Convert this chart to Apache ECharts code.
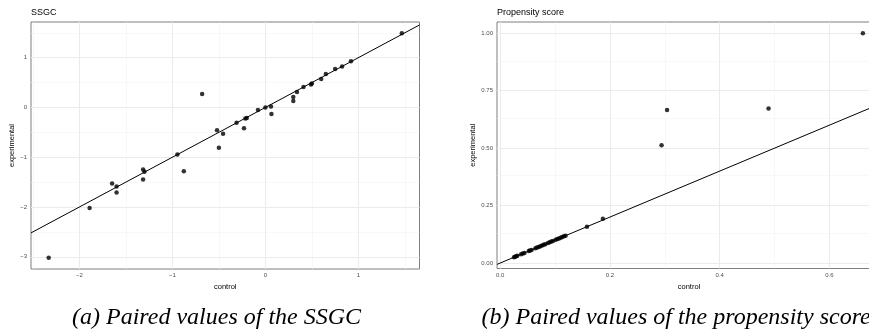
<!DOCTYPE html>
<html>
<head>
<meta charset="utf-8">
<script src="https://cdn.jsdelivr.net/npm/echarts@6/dist/echarts.min.js"></script>
<style>
html,body{margin:0;padding:0;overflow:hidden;background:#fff;}
#c{width:881px;height:330px;}
</style>
</head>
<body>
<div id="c"></div>
<script>
// ---- data ----
const ssgcControl = [1.467, 0.92, 0.825, 0.75, 0.65, 0.60, 0.50, 0.49, 0.41, 0.34, 0.30, 0.30, 0.06, 0.065, 0.0, -0.08, -0.20, -0.215, -0.23, -0.31, -0.52, -0.455, -0.68, -0.50, -0.946, -0.877, -1.315, -1.30, -1.315, -1.648, -1.60, -1.60, -1.89, -2.33];
const ssgcExperimental = [1.49, 0.93, 0.82, 0.77, 0.67, 0.57, 0.48, 0.46, 0.41, 0.31, 0.21, 0.13, 0.02, -0.13, 0.0, -0.05, -0.21, -0.22, -0.42, -0.31, -0.46, -0.53, 0.27, -0.81, -0.945, -1.28, -1.245, -1.29, -1.446, -1.53, -1.59, -1.71, -2.02, -3.02];
const propControl = [0.661, 0.489, 0.304, 0.294, 0.187, 0.158, 0.025, 0.027, 0.029, 0.031, 0.038, 0.041, 0.044, 0.052, 0.054, 0.057, 0.064, 0.067, 0.070, 0.073, 0.076, 0.079, 0.082, 0.087, 0.090, 0.093, 0.096, 0.101, 0.104, 0.107, 0.110, 0.113, 0.116, 0.119];
const propExperimental = [1.00, 0.673, 0.666, 0.512, 0.193, 0.158, 0.025, 0.027, 0.029, 0.031, 0.038, 0.041, 0.044, 0.052, 0.054, 0.057, 0.064, 0.067, 0.070, 0.073, 0.076, 0.079, 0.082, 0.087, 0.090, 0.093, 0.096, 0.101, 0.104, 0.107, 0.110, 0.113, 0.116, 0.119];

const ssgcXTicks = [-2, -1, 0, 1];
const ssgcYTicks = [-3, -2, -1, 0, 1];
const ssgcXMinor = [-2.5, -1.5, -0.5, 0.5, 1.5];
const ssgcYMinor = [-2.5, -1.5, -0.5, 0.5, 1.5];
const propXTicks = [0.0, 0.2, 0.4, 0.6];
const propYTicks = [0.00, 0.25, 0.50, 0.75, 1.00];
const propXMinor = [0.1, 0.3, 0.5];
const propYMinor = [0.125, 0.375, 0.625, 0.875];

const ssgcRange = {xmin: -2.52, xmax: 1.657, ymin: -3.245, ymax: 1.716};
const propRange = {xmin: -0.006, xmax: 0.694, ymin: -0.024, ymax: 1.049};

const titles = ['SSGC', 'Propensity score'];
const captions = ['(a) Paired values of the SSGC', '(b) Paired values of the propensity score'];

// ---- chart ----
const chart = echarts.init(document.getElementById('c'), null, {renderer: 'canvas'});
const minus = v => String(v).replace('-', '\u2212');

function xAxis(idx, r, ticks, dec) {
  return {
    type: 'value', gridIndex: idx, min: r.xmin, max: r.xmax,
    axisLine: {show: false},
    axisTick: {show: true, customValues: ticks, length: 2.5, lineStyle: {color: '#333', width: 0.8}},
    axisLabel: {customValues: ticks, fontSize: 6, color: '#4d4d4d', margin: 3.5, fontFamily: 'Liberation Sans',
      formatter: v => minus(dec ? v.toFixed(dec) : v)},
    splitLine: {show: false},
    name: 'control', nameLocation: 'middle', nameGap: 3.5,
    nameTextStyle: {fontSize: 7.5, color: '#000', fontFamily: 'Liberation Sans'}
  };
}
function yAxis(idx, r, ticks, dec) {
  return {
    type: 'value', gridIndex: idx, min: r.ymin, max: r.ymax,
    axisLine: {show: false},
    axisTick: {show: true, customValues: ticks, length: 2.5, lineStyle: {color: '#333', width: 0.8}},
    axisLabel: {customValues: ticks, fontSize: 6, color: '#4d4d4d', margin: 4, fontFamily: 'Liberation Sans',
      formatter: v => minus(dec ? v.toFixed(dec) : v)},
    splitLine: {show: false},
    name: 'experimental', nameLocation: 'middle', nameGap: 14,
    nameTextStyle: {fontSize: 7.5, color: '#000', fontFamily: 'Liberation Sans'}
  };
}
function gridLines(idx, xs, ys, color, width) {
  return {
    type: 'line', xAxisIndex: idx, yAxisIndex: idx, data: [], z: 1, silent: true,
    markLine: {
      silent: true, symbol: ['none', 'none'], animation: false, z: 1,
      label: {show: false},
      emphasis: {disabled: true},
      lineStyle: {color: color, width: width, type: 'solid'},
      data: xs.map(v => ({xAxis: v})).concat(ys.map(v => ({yAxis: v})))
    }
  };
}
function identity(idx, r) {
  const lo = Math.max(r.xmin, r.ymin), hi = Math.min(r.xmax, r.ymax);
  return {
    type: 'line', xAxisIndex: idx, yAxisIndex: idx, z: 3, silent: true,
    data: [[lo, lo], [hi, hi]], showSymbol: false, symbol: 'none',
    lineStyle: {color: '#000', width: 1}, clip: true
  };
}
function points(idx, xs, ys) {
  return {
    type: 'scatter', xAxisIndex: idx, yAxisIndex: idx, z: 4,
    data: xs.map((x, i) => [x, ys[i]]), symbol: 'circle', symbolSize: 4.5,
    itemStyle: {color: '#000'}
  };
}

const titleStyle = {fontSize: 9, fontWeight: 'normal', color: '#000', fontFamily: 'Liberation Sans'};
const capStyle = {fontSize: 24, fontWeight: 'normal', fontStyle: 'italic', color: '#000', fontFamily: 'Liberation Serif'};

const option = {
  animation: false,
  backgroundColor: '#fff',
  title: [
    {text: titles[0], left: 31, top: 8.5, padding: 0, textStyle: titleStyle},
    {text: titles[1], left: 497, top: 8.5, padding: 0, textStyle: titleStyle},
    {text: captions[0], left: 72, top: 305.5, padding: 0, textStyle: capStyle},
    {text: captions[1], left: 481.5, top: 305.5, padding: 0, textStyle: capStyle}
  ],
  grid: [
    {left: 31, top: 22, width: 388.5, height: 247, show: true, backgroundColor: '#fff', borderColor: '#7f7f7f', borderWidth: 1},
    {left: 497, top: 22, width: 384, height: 246.5, show: true, backgroundColor: '#fff', borderColor: '#7f7f7f', borderWidth: 1}
  ],
  xAxis: [xAxis(0, ssgcRange, ssgcXTicks, 0), xAxis(1, propRange, propXTicks, 1)],
  yAxis: [yAxis(0, ssgcRange, ssgcYTicks, 0), yAxis(1, propRange, propYTicks, 2)],
  series: [
    gridLines(0, ssgcXMinor, ssgcYMinor, '#f4f4f4', 0.6),
    gridLines(0, ssgcXTicks, ssgcYTicks, '#ebebeb', 1),
    identity(0, ssgcRange),
    points(0, ssgcControl, ssgcExperimental),
    gridLines(1, propXMinor, propYMinor, '#f4f4f4', 0.6),
    gridLines(1, propXTicks, propYTicks, '#ebebeb', 1),
    identity(1, propRange),
    points(1, propControl, propExperimental)
  ]
};
chart.setOption(option);
</script>
</body>
</html>
